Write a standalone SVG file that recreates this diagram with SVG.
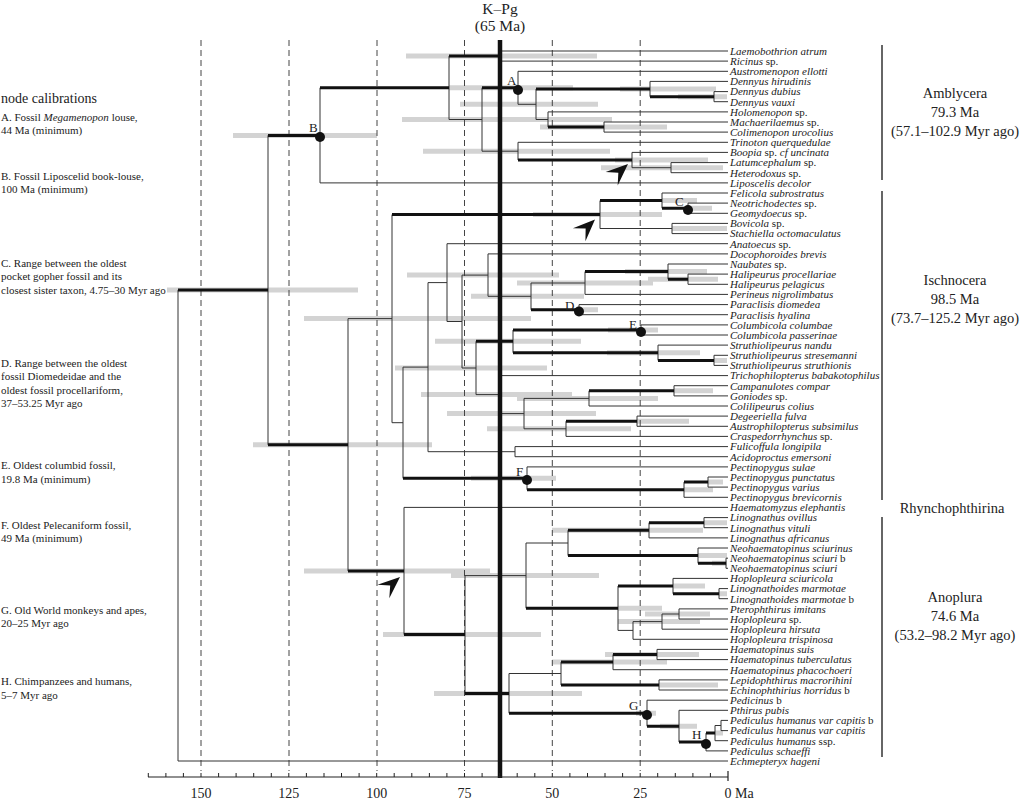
<svg xmlns="http://www.w3.org/2000/svg" width="1024" height="802" viewBox="0 0 1024 802">
<style>
.th{fill:none;stroke:#333;stroke-width:1}
.tk{fill:none;stroke:#111;stroke-width:3}
.gb{fill:none;stroke:#d3d3d3;stroke-width:5}
.dl{fill:none;stroke:#444;stroke-width:1;stroke-dasharray:6 4}
.tx{font-family:"Liberation Serif",serif;font-size:11px;font-style:italic;fill:#222}
.r{font-style:normal}
.cal{font-family:"Liberation Serif",serif;font-size:11px;fill:#222}
.big{font-family:"Liberation Serif",serif;font-size:14.5px;fill:#222;text-anchor:middle}
.lab{font-family:"Liberation Serif",serif;font-size:13px;fill:#222}
.ax{font-family:"Liberation Serif",serif;font-size:14px;fill:#222;text-anchor:middle}
.dot{fill:#111}
</style>
<defs>
<path id="ah" d="M0,0 L-22,-9 L-13,0 L-22,9 Z" fill="#111"/>
</defs>
<rect width="1024" height="802" fill="#fff"/>

<g id="gray-bars" class="gb">
<path d="M167,290.1H358 M233,135.4H377 M406,56.1H597 M449,87.8H573 M460,104.3H598 M402,119.5H553 M540,119.5H612 M540,127.1H667 M620,89H716 M678,96.7H727 M423,151.2H610 M615,160H708 M601,167.7H723 M533,214.6H662 M662,200.6H697 M688,208.2H712 M672,228.5H727 M304,318.6H531 M253,444.8H432 M407,275.1H559 M471,296.3H584 M517,283H653 M625,271.6H707 M648,279.2H718 M577,309.7H598 M395,368H547 M435,341.3H581 M608,330H658 M607,352.7H700 M714,360.4H727 M421,394.6H572 M517,398.4H658 M674,390.8H713 M447,413.6H596 M487,428.8H631 M637,421.2H689 M471,478.3H556 M684,489.7H713 M708,482.1H723 M304,571H490 M451,575.6H599 M383,634.5H541 M434,693.4H582 M552,530.3H703 M704,522.7H727 M698,555.6H727 M712,563.3H727 M673,586H705 M719,593.7H727 M618,608.2H662 M645,614H710 M618,621.6H700 M605,654.5H699 M552,662.1H667 M659,685H718 M636,713.2H656 M660,726.2H697 M715,733.1H723"/>
</g>

<g id="time-gridlines" class="dl">
<path d="M201,40V771 M289,40V771 M377,40V771 M464.5,40V771 M552.3,40V771 M640.2,40V771"/>
</g>

<g id="connectors">
<path class="th" d="M500,51V61.1 M714,91.6V101.7 M650,81.4V96.7 M604,122V132.1 M548,111.9V127.1 M536,89V119.5 M518,71.3V104.3 M671,162.6V172.7 M632,152.4V167.7 M518,142.3V160 M482,87.8V151.2 M449,56.1V119.5 M320,87.8V182.9 M688,203.1V213.3 M662,193V208.2 M672,223.4V233.6 M600,200.6V228.5 M688,274.1V284.3 M668,264V279.2 M585,271.6V294.4 M579,304.6V314.7 M531,283V309.7 M488,253.9V296.3 M641,324.9V335 M714,355.3V365.4 M658,345.1V360.4 M513,330V352.7 M674,385.7V395.9 M589,390.8V406 M637,416.1V426.3 M566,421.2V436.4 M524,398.4V428.8 M500,375.6V413.6 M476,341.3V394.6 M462,275.1V368 M447,243.7V321.5 M515,446.6V456.7 M428,282.6V451.7 M708,477V487.1 M684,482.1V497.3 M527,466.9V489.7 M403,367.1V478.3 M392,214.6V422.7 M704,517.6V527.7 M649,522.7V537.9 M726,558.2V568.3 M698,548V563.3 M568,530.3V555.6 M719,588.6V598.7 M673,578.4V593.7 M679,608.9V619 M662,614V629.2 M633,621.6V639.3 M618,586V630.4 M526,543V608.2 M657,649.4V659.6 M613,654.5V669.7 M659,679.9V690 M561,662.1V685 M721,720.4V730.6 M715,725.5V740.7 M706,733.1V750.9 M679,710.3V742 M647,700.2V726.2 M509,673.5V713.2 M465,575.6V693.4 M404,507.4V634.5 M348,318.6V571 M268,135.4V444.8 M178,290.1V761"/>
<path class="th" d="M449,119.5H482 M518,104.3H536 M536,119.5H548 M482,151.2H518 M632,167.7H671 M348,318.6H392 M600,228.5H672 M392,422.7H403 M403,367.1H428 M428,282.6H447 M428,451.7H515 M447,321.5H462 M462,275.1H488 M462,368H476 M488,296.3H531 M531,283H585 M476,394.6H500 M500,413.6H524 M524,398.4H589 M524,428.8H566 M465,575.6H526 M526,543H568 M618,630.4H633 M633,621.6H662 M662,614H679 M509,673.5H561 M715,725.5H721"/>
<path class="th" d="M500,51H728 M500,61.1H728 M518,71.3H728 M650,81.4H728 M714,91.6H728 M714,101.7H728 M548,111.9H728 M604,122H728 M604,132.1H728 M518,142.3H728 M632,152.4H728 M671,162.6H728 M671,172.7H728 M320,182.9H728 M662,193H728 M688,203.1H728 M688,213.3H728 M672,223.4H728 M672,233.6H728 M447,243.7H728 M488,253.9H728 M668,264H728 M688,274.1H728 M688,284.3H728 M585,294.4H728 M579,304.6H728 M579,314.7H728 M641,324.9H728 M641,335H728 M658,345.1H728 M714,355.3H728 M714,365.4H728 M500,375.6H728 M674,385.7H728 M674,395.9H728 M589,406H728 M637,416.1H728 M637,426.3H728 M566,436.4H728 M515,446.6H728 M515,456.7H728 M527,466.9H728 M708,477H728 M708,487.1H728 M684,497.3H728 M404,507.4H728 M704,517.6H728 M704,527.7H728 M649,537.9H728 M698,548H728 M726,558.2H728 M726,568.3H728 M673,578.4H728 M719,588.6H728 M719,598.7H728 M679,608.9H728 M679,619H728 M662,629.2H728 M633,639.3H728 M657,649.4H728 M657,659.6H728 M613,669.7H728 M659,679.9H728 M659,690H728 M647,700.2H728 M679,710.3H728 M721,720.4H728 M721,730.6H728 M715,740.7H728 M706,750.9H728 M178,761H728"/>
<path class="tk" d="M178,290.1H268 M268,135.4H320 M268,444.8H348 M320,87.8H449 M449,56.1H500 M482,87.8H518 M536,89H650 M650,96.7H714 M548,127.1H604 M518,160H632 M392,214.6H600 M600,200.6H662 M662,208.2H688 M403,478.3H527 M531,309.7H579 M585,271.6H668 M668,279.2H688 M476,341.3H513 M513,330H641 M513,352.7H658 M658,360.4H714 M589,390.8H674 M566,421.2H637 M527,489.7H684 M684,482.1H708 M348,571H404 M404,634.5H465 M465,693.4H509 M526,608.2H618 M568,530.3H649 M568,555.6H698 M649,522.7H704 M698,563.3H726 M618,586H673 M673,593.7H719 M509,713.2H647 M561,662.1H613 M561,685H659 M613,654.5H657 M647,726.2H679 M679,742H706 M706,733.1H715"/>
<use href="#ah" transform="translate(628,164) rotate(-42)"/>
<use href="#ah" transform="translate(595,219.5) rotate(-44)"/>
<use href="#ah" transform="translate(400,577) rotate(-41)"/>
</g>

<g id="kpg">
<path d="M500,40V778" stroke="#111" stroke-width="4.5" fill="none"/>
<text class="big" x="500" y="14" style="font-size:15.5px">K–Pg</text>
<text class="big" x="500" y="31" style="font-size:15.5px">(65 Ma)</text>
</g>

<g id="node-A"><circle class="dot" cx="518" cy="90" r="5"/><text class="lab" x="507" y="85">A</text></g>
<g id="node-B"><circle class="dot" cx="320" cy="137" r="5"/><text class="lab" x="309" y="132">B</text></g>
<g id="node-C"><circle class="dot" cx="688" cy="210" r="5"/><text class="lab" x="675" y="206">C</text></g>
<g id="node-D"><circle class="dot" cx="579" cy="311.5" r="5"/><text class="lab" x="565" y="310">D</text></g>
<g id="node-E"><circle class="dot" cx="641" cy="332" r="5"/><text class="lab" x="629" y="329">E</text></g>
<g id="node-F"><circle class="dot" cx="527" cy="480" r="5"/><text class="lab" x="516" y="476">F</text></g>
<g id="node-G"><circle class="dot" cx="647" cy="715" r="5"/><text class="lab" x="629" y="710">G</text></g>
<g id="node-H"><circle class="dot" cx="706" cy="744" r="5"/><text class="lab" x="692" y="739">H</text></g>

<g id="taxa" class="tx">
<g id="t1"><text x="730" y="54.8">Laemobothrion atrum</text></g>
<g id="t2"><text x="730" y="64.9">Ricinus <tspan class="r">sp.</tspan></text></g>
<g id="t3"><text x="730" y="75.1">Austromenopon ellotti</text></g>
<g id="t4"><text x="730" y="85.2">Dennyus hirudinis</text></g>
<g id="t5"><text x="730" y="95.4">Dennyus dubius</text></g>
<g id="t6"><text x="730" y="105.5">Dennyus vauxi</text></g>
<g id="t7"><text x="730" y="115.7">Holomenopon <tspan class="r">sp.</tspan></text></g>
<g id="t8"><text x="730" y="125.8">Machaerilaemus <tspan class="r">sp.</tspan></text></g>
<g id="t9"><text x="730" y="135.9">Colimenopon urocolius</text></g>
<g id="t10"><text x="730" y="146.1">Trinoton querquedulae</text></g>
<g id="t11"><text x="730" y="156.2">Boopia <tspan class="r">sp.</tspan> cf uncinata</text></g>
<g id="t12"><text x="730" y="166.4">Latumcephalum <tspan class="r">sp.</tspan></text></g>
<g id="t13"><text x="730" y="176.5">Heterodoxus <tspan class="r">sp.</tspan></text></g>
<g id="t14"><text x="730" y="186.7">Liposcelis decolor</text></g>
<g id="t15"><text x="730" y="196.8">Felicola subrostratus</text></g>
<g id="t16"><text x="730" y="206.9">Neotrichodectes <tspan class="r"> sp.</tspan></text></g>
<g id="t17"><text x="730" y="217.1">Geomydoecus <tspan class="r">sp.</tspan></text></g>
<g id="t18"><text x="730" y="227.2">Bovicola <tspan class="r">sp.</tspan></text></g>
<g id="t19"><text x="730" y="237.4">Stachiella octomaculatus</text></g>
<g id="t20"><text x="730" y="247.5">Anatoecus <tspan class="r">sp.</tspan></text></g>
<g id="t21"><text x="730" y="257.7">Docophoroides brevis</text></g>
<g id="t22"><text x="730" y="267.8">Naubates <tspan class="r">sp.</tspan></text></g>
<g id="t23"><text x="730" y="277.9">Halipeurus procellariae</text></g>
<g id="t24"><text x="730" y="288.1">Halipeurus pelagicus</text></g>
<g id="t25"><text x="730" y="298.2">Perineus nigrolimbatus</text></g>
<g id="t26"><text x="730" y="308.4">Paraclisis diomedea</text></g>
<g id="t27"><text x="730" y="318.5">Paraclisis hyalina</text></g>
<g id="t28"><text x="730" y="328.7">Columbicola columbae</text></g>
<g id="t29"><text x="730" y="338.8">Columbicola passerinae</text></g>
<g id="t30"><text x="730" y="348.9">Struthiolipeurus nandu</text></g>
<g id="t31"><text x="730" y="359.1">Struthiolipeurus stresemanni</text></g>
<g id="t32"><text x="730" y="369.2">Struthiolipeurus struthionis</text></g>
<g id="t33"><text x="730" y="379.4">Trichophilopterus babakotophilus</text></g>
<g id="t34"><text x="730" y="389.5">Campanulotes compar</text></g>
<g id="t35"><text x="730" y="399.7">Goniodes <tspan class="r">sp.</tspan></text></g>
<g id="t36"><text x="730" y="409.8">Colilipeurus colius</text></g>
<g id="t37"><text x="730" y="419.9">Degeeriella fulva</text></g>
<g id="t38"><text x="730" y="430.1">Austrophilopterus subsimilus</text></g>
<g id="t39"><text x="730" y="440.2">Craspedorrhynchus <tspan class="r">sp.</tspan></text></g>
<g id="t40"><text x="730" y="450.4">Fulicoffula longipila</text></g>
<g id="t41"><text x="730" y="460.5">Acidoproctus emersoni</text></g>
<g id="t42"><text x="730" y="470.7">Pectinopygus sulae</text></g>
<g id="t43"><text x="730" y="480.8">Pectinopygus punctatus</text></g>
<g id="t44"><text x="730" y="490.9">Pectinopygus varius</text></g>
<g id="t45"><text x="730" y="501.1">Pectinopygus brevicornis</text></g>
<g id="t46"><text x="730" y="511.2">Haematomyzus elephantis</text></g>
<g id="t47"><text x="730" y="521.4">Linognathus ovillus</text></g>
<g id="t48"><text x="730" y="531.5">Linognathus vituli</text></g>
<g id="t49"><text x="730" y="541.7">Linognathus africanus</text></g>
<g id="t50"><text x="730" y="551.8">Neohaematopinus sciurinus</text></g>
<g id="t51"><text x="730" y="561.9">Neohaematopinus sciuri <tspan class="r">b</tspan></text></g>
<g id="t52"><text x="730" y="572.1">Neohaematopinus sciuri</text></g>
<g id="t53"><text x="730" y="582.2">Hoplopleura sciuricola</text></g>
<g id="t54"><text x="730" y="592.4">Linognathoides marmotae</text></g>
<g id="t55"><text x="730" y="602.5">Linognathoides marmotae <tspan class="r">b</tspan></text></g>
<g id="t56"><text x="730" y="612.7">Pterophthirus imitans</text></g>
<g id="t57"><text x="730" y="622.8">Hoplopleura <tspan class="r">sp.</tspan></text></g>
<g id="t58"><text x="730" y="632.9">Hoplopleura hirsuta</text></g>
<g id="t59"><text x="730" y="643.1">Hoplopleura trispinosa</text></g>
<g id="t60"><text x="730" y="653.2">Haematopinus suis</text></g>
<g id="t61"><text x="730" y="663.4">Haematopinus tuberculatus</text></g>
<g id="t62"><text x="730" y="673.5">Haematopinus phacochoeri</text></g>
<g id="t63"><text x="730" y="683.7">Lepidophthirus macrorihini</text></g>
<g id="t64"><text x="730" y="693.8">Echinophthirius horridus <tspan class="r">b</tspan></text></g>
<g id="t65"><text x="730" y="703.9">Pedicinus <tspan class="r">b</tspan></text></g>
<g id="t66"><text x="730" y="714.1">Pthirus pubis</text></g>
<g id="t67"><text x="730" y="724.2">Pediculus humanus var capitis <tspan class="r">b</tspan></text></g>
<g id="t68"><text x="730" y="734.4">Pediculus humanus var capitis</text></g>
<g id="t69"><text x="730" y="744.5">Pediculus humanus <tspan class="r">ssp.</tspan></text></g>
<g id="t70"><text x="730" y="754.7">Pediculus schaeffi</text></g>
<g id="t71"><text x="730" y="764.8">Echmepteryx hageni</text></g>
</g>

<g id="clade-Amblycera">
<path d="M882,45V180" stroke="#333" stroke-width="1.5"/>
<text class="big" x="955" y="98">Amblycera</text>
<text class="big" x="955" y="117">79.3 Ma</text>
<text class="big" x="955" y="136">(57.1–102.9 Myr ago)</text>
</g>
<g id="clade-Ischnocera">
<path d="M882,191V500" stroke="#333" stroke-width="1.5"/>
<text class="big" x="955" y="285">Ischnocera</text>
<text class="big" x="955" y="304">98.5 Ma</text>
<text class="big" x="955" y="323">(73.7–125.2 Myr ago)</text>
</g>
<g id="clade-Rhynchophthirina">
<text class="big" x="952" y="513">Rhynchophthirina</text>
</g>
<g id="clade-Anoplura">
<path d="M882,517V757" stroke="#333" stroke-width="1.5"/>
<text class="big" x="955" y="602">Anoplura</text>
<text class="big" x="955" y="621">74.6 Ma</text>
<text class="big" x="955" y="640">(53.2–98.2 Myr ago)</text>
</g>

<g id="calibrations" class="cal">
<text x="1" y="103" style="font-size:14px">node calibrations</text>
<text x="1" y="120.5">A. Fossil <tspan font-style="italic">Megamenopon</tspan> louse,</text>
<text x="1" y="133.5">44 Ma (minimum)</text>
<text x="1" y="179.5">B. Fossil Liposcelid book-louse,</text>
<text x="1" y="192.5">100 Ma (minimum)</text>
<text x="1" y="266.5">C. Range between the oldest</text>
<text x="1" y="280">pocket gopher fossil and its</text>
<text x="1" y="293.5">closest sister taxon, 4.75–30 Myr ago</text>
<text x="1" y="366.5">D. Range between the oldest</text>
<text x="1" y="380">fossil Diomedeidae and the</text>
<text x="1" y="393.5">oldest fossil procellariform,</text>
<text x="1" y="407">37–53.25 Myr ago</text>
<text x="1" y="469">E. Oldest columbid fossil,</text>
<text x="1" y="482.5">19.8 Ma (minimum)</text>
<text x="1" y="528.5">F. Oldest Pelecaniform fossil,</text>
<text x="1" y="542">49 Ma (minimum)</text>
<text x="1" y="613.5">G. Old World monkeys and apes,</text>
<text x="1" y="627">20–25 Myr ago</text>
<text x="1" y="685">H. Chimpanzees and humans,</text>
<text x="1" y="698.5">5–7 Myr ago</text>
</g>

<g id="axis">
<path d="M148,777H728 M728,771V781" stroke="#222" stroke-width="1.2" fill="none"/>
<path d="M710.4,777V773 M692.9,777V773 M675.3,777V773 M657.7,777V773 M640.2,777V773 M622.6,777V773 M605,777V773 M587.5,777V773 M569.9,777V773 M552.3,777V773 M534.8,777V773 M517.2,777V773 M499.6,777V773 M482.1,777V773 M464.5,777V773 M446.9,777V773 M429.4,777V773 M411.8,777V773 M394.2,777V773 M376.7,777V773 M359.1,777V773 M341.5,777V773 M324,777V773 M306.4,777V773 M288.8,777V773 M271.3,777V773 M253.7,777V773 M236.1,777V773 M218.6,777V773 M201,777V773 M183.4,777V773 M165.9,777V773 M148.3,777V773" stroke="#222" stroke-width="1" fill="none"/>
<text class="ax" x="201" y="798">150</text>
<text class="ax" x="288.8" y="798">125</text>
<text class="ax" x="376.7" y="798">100</text>
<text class="ax" x="464.5" y="798">75</text>
<text class="ax" x="552.3" y="798">50</text>
<text class="ax" x="640.2" y="798">25</text>
<text class="ax" x="724.5" y="798" style="text-anchor:start">0 Ma</text>
</g>
</svg>
